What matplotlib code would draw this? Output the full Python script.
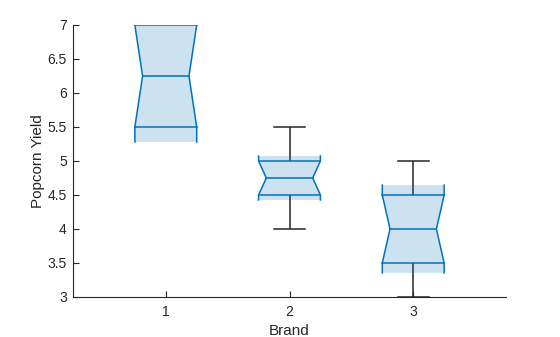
import matplotlib
matplotlib.use('Agg')
import matplotlib.pyplot as plt
from matplotlib.patches import Polygon

# Data
brands = [1, 2, 3]
brand_labels = ['1', '2', '3']
q1 = [5.5, 4.5, 3.5]
medians = [6.25, 4.75, 4.0]
q3 = [7.0, 5.0, 4.5]
whisker_lo = [5.5, 4.0, 3.0]
whisker_hi = [7.0, 5.5, 5.0]
notch_lo = [5.28, 4.427, 3.355]
notch_hi = [7.22, 5.073, 4.645]
yticks = [3, 3.5, 4, 4.5, 5, 5.5, 6, 6.5, 7]
ytick_labels = ['3', '3.5', '4', '4.5', '5', '5.5', '6', '6.5', '7']

plt.rcParams['font.family'] = ['Liberation Sans', 'DejaVu Sans']
BLUE = (0.0, 0.447, 0.741)
GRAY = (0.15, 0.15, 0.15)
LW = 1.1

fig = plt.figure(figsize=(5.6, 3.37), dpi=100)
ax = fig.add_axes([73 / 560, 40 / 337, 433 / 560, 272 / 337])

box_w = 0.5
cap_w = 0.25
inset = 0.125 * box_w

for x, a, m, b, wl, wh, nl, nh in zip(brands, q1, medians, q3, whisker_lo,
                                     whisker_hi, notch_lo, notch_hi):
    L, R = x - box_w / 2, x + box_w / 2
    Li, Ri = L + inset, R - inset
    lower, kink_lo = min(a, nl), max(a, nl)
    upper, kink_hi = max(b, nh), min(b, nh)
    # whiskers (hidden when they coincide with the box edges)
    if wl < a:
        ax.plot([x, x], [wl, a], color=GRAY, lw=LW, zorder=1, solid_capstyle='butt')
        ax.plot([x - cap_w / 2, x + cap_w / 2], [wl, wl], color=GRAY, lw=LW, zorder=1)
    if wh > b:
        ax.plot([x, x], [b, wh], color=GRAY, lw=LW, zorder=1, solid_capstyle='butt')
        ax.plot([x - cap_w / 2, x + cap_w / 2], [wh, wh], color=GRAY, lw=LW, zorder=1)
    # box body
    left = [(L, lower), (L, kink_lo), (Li, m), (L, kink_hi), (L, upper)]
    right = [(R, upper), (R, kink_hi), (Ri, m), (R, kink_lo), (R, lower)]
    poly = Polygon(left + right, closed=True, facecolor=BLUE, alpha=0.2,
                   edgecolor='none', zorder=2)
    ax.add_patch(poly)
    ax.plot([p[0] for p in left], [p[1] for p in left], color=BLUE, lw=LW, zorder=3)
    ax.plot([p[0] for p in right], [p[1] for p in right], color=BLUE, lw=LW, zorder=3)

    def extent(y):
        if kink_lo <= y <= m and m != kink_lo:
            t = (y - kink_lo) / (m - kink_lo)
            return L + t * inset, R - t * inset
        if m <= y <= kink_hi and kink_hi != m:
            t = (kink_hi - y) / (kink_hi - m)
            return L + t * inset, R - t * inset
        if y == m:
            return Li, Ri
        return L, R

    for yy in (a, m, b):
        xl, xr = extent(yy)
        ax.plot([xl, xr], [yy, yy], color=BLUE, lw=LW, zorder=3)

ax.set_xlim(0.25, 3.75)
ax.set_ylim(3, 7)
ax.set_xticks(brands)
ax.set_xticklabels(brand_labels)
ax.set_yticks(yticks)
ax.set_yticklabels(ytick_labels)
for s in ('top', 'right'):
    ax.spines[s].set_visible(False)
for s in ('left', 'bottom'):
    ax.spines[s].set_color(GRAY)
    ax.spines[s].set_linewidth(0.8)
ax.tick_params(direction='in', length=4, width=0.8, colors=GRAY, labelsize=10)
ax.tick_params(axis='x', pad=6)
ax.tick_params(axis='y', pad=4.5)
ax.set_xlabel('Brand', fontsize=11, color=GRAY, labelpad=3.5)
ax.set_ylabel('Popcorn Yield', fontsize=11, color=GRAY, labelpad=2)

fig.savefig('out.png', dpi=100)
